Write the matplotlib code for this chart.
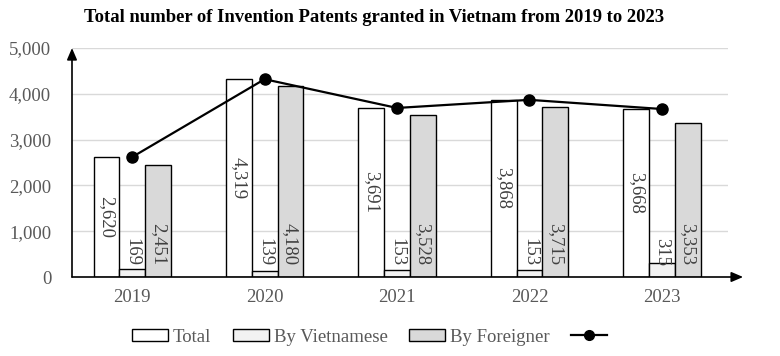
import numpy as np
import matplotlib
matplotlib.use("Agg")
import matplotlib.pyplot as plt
from matplotlib.patches import Patch
from matplotlib.lines import Line2D

# Datos
anios = ["2019", "2020", "2021", "2022", "2023"]
total = [2620, 4319, 3691, 3868, 3668]
por_vietnamitas = [169, 139, 153, 153, 315]
por_extranjeros = [2451, 4180, 3528, 3715, 3353]

plt.rcParams['font.family'] = ['Liberation Serif', 'DejaVu Serif']

fig = plt.figure(figsize=(7.8, 3.56), dpi=100)
ax = fig.add_axes([72 / 780, 1 - 277 / 356, (728 - 72) / 780, (277 - 48) / 356])

x = np.arange(len(anios))
ancho = 0.195
gris_texto = '#595959'

ax.bar(x - ancho, total, ancho, color='white', edgecolor='black', linewidth=1, zorder=2)
ax.bar(x, por_vietnamitas, ancho, color='#F2F2F2', edgecolor='black', linewidth=1, zorder=2)
ax.bar(x + ancho, por_extranjeros, ancho, color='#D9D9D9', edgecolor='black', linewidth=1, zorder=2)

# Linea del total
ax.plot(x, total, color='black', linewidth=1.6, marker='o', markersize=8, zorder=4)

# Etiquetas de datos (rotadas)
for i in range(len(anios)):
    ax.text(x[i] - ancho, total[i] / 2, f"{total[i]:,}", rotation=270, ha='center', va='center',
            fontsize=13.5, color='#404040', zorder=5)
    ax.text(x[i], 230, f"{por_vietnamitas[i]:,}", rotation=270, ha='center', va='bottom',
            fontsize=13.5, color='#404040', zorder=5)
    ax.text(x[i] + ancho, 250, f"{por_extranjeros[i]:,}", rotation=270, ha='center', va='bottom',
            fontsize=13.5, color='#404040', zorder=5)

ax.set_xlim(-0.455, 4.5)
ax.set_ylim(0, 5000)
ax.set_yticks(range(0, 5001, 1000))
ax.set_yticklabels([f"{v:,}" for v in range(0, 5001, 1000)])
ax.set_xticks(x)
ax.set_xticklabels(anios)
ax.tick_params(axis='both', length=0, labelsize=13.5, labelcolor=gris_texto)
ax.tick_params(axis='x', pad=9)
ax.tick_params(axis='y', pad=15)

for v in range(1000, 5001, 1000):
    ax.axhline(v, color='#D9D9D9', linewidth=1, zorder=0)

for s in ax.spines.values():
    s.set_visible(False)

# Ejes con flecha
ax.annotate('', xy=(0, 1.0), xytext=(0, 0), xycoords='axes fraction',
            arrowprops=dict(arrowstyle='-|>,head_length=0.7,head_width=0.3', color='black', lw=1.2,
                            shrinkA=0, shrinkB=0), zorder=6)
ax.annotate('', xy=(1.023, 0), xytext=(0, 0), xycoords='axes fraction',
            arrowprops=dict(arrowstyle='-|>,head_length=0.7,head_width=0.3', color='black', lw=1.2,
                            shrinkA=0, shrinkB=0), zorder=6)

fig.suptitle("Total number of Invention Patents granted in Vietnam from 2019 to 2023",
             fontsize=13.4, fontweight='bold', x=374 / 780, y=1 - 9 / 356, va='top')

manejadores = [
    Patch(facecolor='white', edgecolor='black', linewidth=1),
    Patch(facecolor='#F2F2F2', edgecolor='black', linewidth=1),
    Patch(facecolor='#D9D9D9', edgecolor='black', linewidth=1),
    Line2D([], [], color='black', linewidth=1.6, marker='o', markersize=7),
]
etiquetas = ["Total", "By Vietnamese", "By Foreigner", ""]
leg = fig.legend(manejadores, etiquetas, loc='center', bbox_to_anchor=(372 / 780, 1 - 337 / 356),
                 ncol=4, frameon=False, fontsize=13.5, handlelength=1.9, handleheight=0.55,
                 handletextpad=0.27, columnspacing=1.15, borderpad=0, borderaxespad=0)
for t in leg.get_texts():
    t.set_color(gris_texto)

fig.savefig("out.png", dpi=100)
